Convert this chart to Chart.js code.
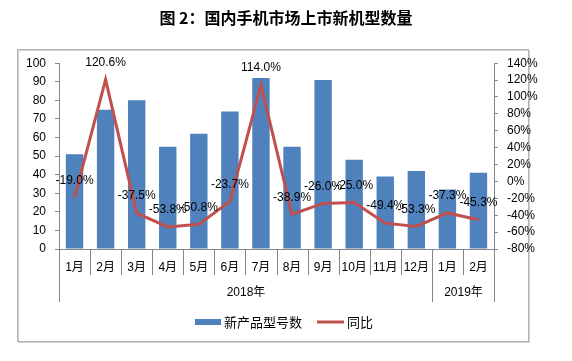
<!DOCTYPE html>
<html lang="zh">
<head>
  <meta charset="UTF-8" />
  <title>国内手机市场上市新机型数量</title>
  <script src="https://cdn.jsdelivr.net/npm/chart.js"></script>
  <style>
    html, body { margin: 0; padding: 0; background: #fff; }
    #wrap { position: relative; width: 572px; height: 361px; }
  </style>
</head>
<body>
  <div id="wrap"><canvas id="chart" width="572" height="361"></canvas></div>

  <script>
    const months = ['1月', '2月', '3月', '4月', '5月', '6月', '7月', '8月', '9月', '10月', '11月', '12月', '1月', '2月'];
    const years = ['2018年', '2019年'];
    const yearSpans = [12, 2];
    const newModels = [51, 75, 80, 55, 62, 74, 92, 55, 91, 48, 39, 42, 32, 41];
    const yoy = [-19.0, 120.6, -37.5, -53.8, -50.8, -23.7, 114.0, -38.9, -26.0, -25.0, -49.4, -53.3, -37.3, -45.3];

    const FONT = "'Liberation Sans', 'Noto Sans CJK SC', sans-serif";
    const CJK = "'Noto Sans CJK SC', 'Liberation Sans', sans-serif";
    const AXIS = '#868686';
    const BLUE = '#4F81BD';
    const RED = '#C0504D';

    Chart.defaults.font.family = FONT;
    Chart.defaults.color = '#000';

    // outer frame round the plot + legend
    const frame = {
      id: 'frame',
      beforeDraw(chart) {
        const ctx = chart.ctx;
        ctx.save();
        ctx.strokeStyle = '#d0d0d0';
        ctx.lineWidth = 1;
        ctx.strokeRect(18.5, 50.5, 511, 292);
        ctx.strokeStyle = '#b5b5b5';
        ctx.strokeRect(17.5, 49.5, 511, 292);
        ctx.restore();
      }
    };

    // month separators, year row
    const axisExtras = {
      id: 'axisExtras',
      afterDraw(chart) {
        const { ctx, chartArea } = chart;
        const x = chart.scales.x;
        const base = chartArea.bottom;
        const step = x.getPixelForValue(1) - x.getPixelForValue(0);
        const edge = i => Math.round(x.getPixelForValue(i) - step / 2) + 0.5;
        const yearEdges = [0];
        yearSpans.forEach(n => yearEdges.push(yearEdges[yearEdges.length - 1] + n));

        ctx.save();
        ctx.strokeStyle = AXIS;
        ctx.lineWidth = 1;
        ctx.beginPath();
        for (let i = 0; i <= months.length; i++) {
          const long = yearEdges.includes(i);
          ctx.moveTo(edge(i), base);
          ctx.lineTo(edge(i), base + (long ? 53 : 26));
        }
        ctx.stroke();

        ctx.font = '12px ' + FONT;
        ctx.fillStyle = '#000';
        ctx.textAlign = 'center';
        ctx.textBaseline = 'middle';
        years.forEach((y, k) => {
          const cx = (edge(yearEdges[k]) + edge(yearEdges[k + 1])) / 2;
          ctx.fillText(y, cx, base + 44);
        });
        ctx.restore();
      }
    };

    // value labels above the line
    const lineLabels = {
      id: 'lineLabels',
      afterDatasetsDraw(chart) {
        const ctx = chart.ctx;
        const meta = chart.getDatasetMeta(1);
        ctx.save();
        ctx.font = '12px ' + FONT;
        ctx.fillStyle = '#000';
        ctx.textAlign = 'center';
        ctx.textBaseline = 'middle';
        meta.data.forEach((pt, i) => {
          ctx.fillText(yoy[i].toFixed(1) + '%', pt.x, pt.y - 17);
        });
        ctx.restore();
      }
    };

    // legend at the bottom
    const legendBox = {
      id: 'legendBox',
      afterDraw(chart) {
        const ctx = chart.ctx;
        const ds = chart.data.datasets;
        const cy = 322;
        ctx.save();
        ctx.font = '13px ' + CJK;
        ctx.textBaseline = 'middle';
        ctx.textAlign = 'left';
        const w0 = ctx.measureText(ds[0].label).width;
        const w1 = ctx.measureText(ds[1].label).width;
        const total = 26 + 3 + w0 + 15 + 27 + 3 + w1;
        let px = Math.round(284 - total / 2);

        ctx.fillStyle = BLUE;
        ctx.fillRect(px, cy - 3, 26, 6);
        px += 29;
        ctx.fillStyle = '#000';
        ctx.fillText(ds[0].label, px, cy);
        px += w0 + 15;

        ctx.strokeStyle = RED;
        ctx.lineWidth = 3;
        ctx.beginPath();
        ctx.moveTo(px, cy);
        ctx.lineTo(px + 27, cy);
        ctx.stroke();
        px += 30;
        ctx.fillText(ds[1].label, px, cy);
        ctx.restore();
      }
    };

    new Chart(document.getElementById('chart').getContext('2d'), {
      data: {
        labels: months,
        datasets: [
          {
            type: 'bar',
            label: '新产品型号数',
            data: newModels,
            backgroundColor: BLUE,
            borderWidth: 0,
            barPercentage: 0.56,
            categoryPercentage: 1,
            yAxisID: 'y',
            order: 2
          },
          {
            type: 'line',
            label: '同比',
            data: yoy,
            borderColor: RED,
            borderWidth: 3,
            pointRadius: 0,
            tension: 0,
            fill: false,
            yAxisID: 'y1',
            order: 1
          }
        ]
      },
      options: {
        responsive: false,
        animation: false,
        layout: { padding: { left: 0, right: 0, top: 0, bottom: 59 } },
        plugins: {
          legend: { display: false },
          tooltip: { enabled: false },
          title: {
            display: true,
            text: '图 2：国内手机市场上市新机型数量',
            color: '#000',
            font: { size: 16, weight: 'bold', family: CJK, lineHeight: 1.2 },
            padding: { top: 8, bottom: 36 }
          }
        },
        scales: {
          x: {
            offset: true,
            grid: { display: false, drawTicks: false },
            border: { color: AXIS },
            ticks: { font: { size: 12 }, padding: 11, maxRotation: 0, autoSkip: false },
            afterFit(s) { s.height = 53; }
          },
          y: {
            position: 'left',
            min: 0,
            max: 100,
            ticks: { stepSize: 10, font: { size: 12 }, padding: 9, autoSkip: false },
            grid: { drawOnChartArea: false, tickLength: 4, color: AXIS },
            border: { color: AXIS },
            afterFit(s) { s.width = 59; }
          },
          y1: {
            position: 'right',
            min: -80,
            max: 140,
            ticks: { stepSize: 20, font: { size: 12 }, padding: 9, autoSkip: false, callback: v => v + '%' },
            grid: { drawOnChartArea: false, tickLength: 4, color: AXIS },
            border: { color: AXIS },
            afterFit(s) { s.width = 78; }
          }
        }
      },
      plugins: [frame, axisExtras, lineLabels, legendBox]
    });
  </script>
</body>
</html>
